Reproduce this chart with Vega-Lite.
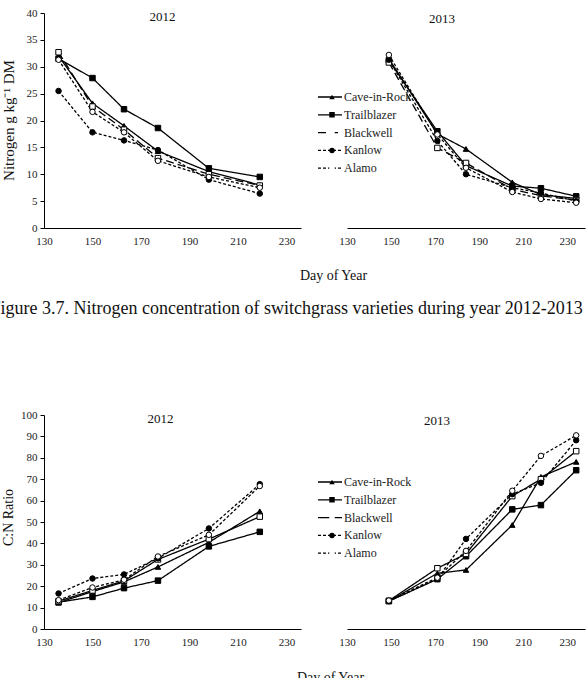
{
  "$schema": "https://vega.github.io/schema/vega-lite/v6.json",
  "autosize": {"type": "none"},
  "padding": {"left": 44, "top": 13, "right": 542, "bottom": 665},
  "background": "white",
  "datasets": {
    "nitrogen2012": [
      {"variety": "Cave-in-Rock", "day": 136, "value": 32.0},
      {"variety": "Cave-in-Rock", "day": 150, "value": 23.2},
      {"variety": "Cave-in-Rock", "day": 163, "value": 19.0},
      {"variety": "Cave-in-Rock", "day": 177, "value": 14.3},
      {"variety": "Cave-in-Rock", "day": 198, "value": 10.5},
      {"variety": "Cave-in-Rock", "day": 219, "value": 8.0},
      {"variety": "Trailblazer", "day": 136, "value": 31.5},
      {"variety": "Trailblazer", "day": 150, "value": 27.9},
      {"variety": "Trailblazer", "day": 163, "value": 22.1},
      {"variety": "Trailblazer", "day": 177, "value": 18.6},
      {"variety": "Trailblazer", "day": 198, "value": 11.1},
      {"variety": "Trailblazer", "day": 219, "value": 9.5},
      {"variety": "Blackwell", "day": 136, "value": 32.7},
      {"variety": "Blackwell", "day": 150, "value": 22.6},
      {"variety": "Blackwell", "day": 163, "value": 18.3},
      {"variety": "Blackwell", "day": 177, "value": 13.0},
      {"variety": "Blackwell", "day": 198, "value": 10.0},
      {"variety": "Blackwell", "day": 219, "value": 7.9},
      {"variety": "Kanlow", "day": 136, "value": 25.5},
      {"variety": "Kanlow", "day": 150, "value": 17.8},
      {"variety": "Kanlow", "day": 163, "value": 16.3},
      {"variety": "Kanlow", "day": 177, "value": 14.5},
      {"variety": "Kanlow", "day": 198, "value": 9.0},
      {"variety": "Kanlow", "day": 219, "value": 6.4},
      {"variety": "Alamo", "day": 136, "value": 31.3},
      {"variety": "Alamo", "day": 150, "value": 21.6},
      {"variety": "Alamo", "day": 163, "value": 17.8},
      {"variety": "Alamo", "day": 177, "value": 12.5},
      {"variety": "Alamo", "day": 198, "value": 9.5},
      {"variety": "Alamo", "day": 219, "value": 7.5}
    ],
    "nitrogen2013": [
      {"variety": "Cave-in-Rock", "day": 149, "value": 31.5},
      {"variety": "Cave-in-Rock", "day": 171, "value": 17.5},
      {"variety": "Cave-in-Rock", "day": 184, "value": 14.7},
      {"variety": "Cave-in-Rock", "day": 205, "value": 8.5},
      {"variety": "Cave-in-Rock", "day": 218, "value": 6.2},
      {"variety": "Cave-in-Rock", "day": 234, "value": 5.5},
      {"variety": "Trailblazer", "day": 149, "value": 31.2},
      {"variety": "Trailblazer", "day": 171, "value": 18.0},
      {"variety": "Trailblazer", "day": 184, "value": 11.6},
      {"variety": "Trailblazer", "day": 205, "value": 7.8},
      {"variety": "Trailblazer", "day": 218, "value": 7.4},
      {"variety": "Trailblazer", "day": 234, "value": 5.9},
      {"variety": "Blackwell", "day": 149, "value": 30.8},
      {"variety": "Blackwell", "day": 171, "value": 14.9},
      {"variety": "Blackwell", "day": 184, "value": 12.1},
      {"variety": "Blackwell", "day": 205, "value": 7.2},
      {"variety": "Blackwell", "day": 218, "value": 6.0},
      {"variety": "Blackwell", "day": 234, "value": 5.2},
      {"variety": "Kanlow", "day": 149, "value": 31.3},
      {"variety": "Kanlow", "day": 171, "value": 16.2},
      {"variety": "Kanlow", "day": 184, "value": 10.0},
      {"variety": "Kanlow", "day": 205, "value": 7.5},
      {"variety": "Kanlow", "day": 218, "value": 6.5},
      {"variety": "Kanlow", "day": 234, "value": 5.0},
      {"variety": "Alamo", "day": 149, "value": 32.2},
      {"variety": "Alamo", "day": 171, "value": 17.4},
      {"variety": "Alamo", "day": 184, "value": 11.2},
      {"variety": "Alamo", "day": 205, "value": 6.7},
      {"variety": "Alamo", "day": 218, "value": 5.4},
      {"variety": "Alamo", "day": 234, "value": 4.7}
    ],
    "ratio2012": [
      {"variety": "Cave-in-Rock", "day": 136, "value": 12.3},
      {"variety": "Cave-in-Rock", "day": 150, "value": 17.5},
      {"variety": "Cave-in-Rock", "day": 163, "value": 22.0},
      {"variety": "Cave-in-Rock", "day": 177, "value": 29.0},
      {"variety": "Cave-in-Rock", "day": 198, "value": 40.5},
      {"variety": "Cave-in-Rock", "day": 219, "value": 55.0},
      {"variety": "Trailblazer", "day": 136, "value": 12.5},
      {"variety": "Trailblazer", "day": 150, "value": 15.0},
      {"variety": "Trailblazer", "day": 163, "value": 19.1},
      {"variety": "Trailblazer", "day": 177, "value": 22.6},
      {"variety": "Trailblazer", "day": 198, "value": 38.6},
      {"variety": "Trailblazer", "day": 219, "value": 45.4},
      {"variety": "Blackwell", "day": 136, "value": 13.0},
      {"variety": "Blackwell", "day": 150, "value": 18.0},
      {"variety": "Blackwell", "day": 163, "value": 22.5},
      {"variety": "Blackwell", "day": 177, "value": 32.5},
      {"variety": "Blackwell", "day": 198, "value": 42.0},
      {"variety": "Blackwell", "day": 219, "value": 52.5},
      {"variety": "Kanlow", "day": 136, "value": 16.6},
      {"variety": "Kanlow", "day": 150, "value": 23.6},
      {"variety": "Kanlow", "day": 163, "value": 25.5},
      {"variety": "Kanlow", "day": 177, "value": 33.0},
      {"variety": "Kanlow", "day": 198, "value": 47.0},
      {"variety": "Kanlow", "day": 219, "value": 67.7},
      {"variety": "Alamo", "day": 136, "value": 13.5},
      {"variety": "Alamo", "day": 150, "value": 19.4},
      {"variety": "Alamo", "day": 163, "value": 23.0},
      {"variety": "Alamo", "day": 177, "value": 33.9},
      {"variety": "Alamo", "day": 198, "value": 44.0},
      {"variety": "Alamo", "day": 219, "value": 66.8}
    ],
    "ratio2013": [
      {"variety": "Cave-in-Rock", "day": 149, "value": 13.0},
      {"variety": "Cave-in-Rock", "day": 171, "value": 26.0},
      {"variety": "Cave-in-Rock", "day": 184, "value": 27.6},
      {"variety": "Cave-in-Rock", "day": 205, "value": 48.6},
      {"variety": "Cave-in-Rock", "day": 218, "value": 71.1},
      {"variety": "Cave-in-Rock", "day": 234, "value": 78.1},
      {"variety": "Trailblazer", "day": 149, "value": 13.0},
      {"variety": "Trailblazer", "day": 171, "value": 23.3},
      {"variety": "Trailblazer", "day": 184, "value": 34.0},
      {"variety": "Trailblazer", "day": 205, "value": 55.9},
      {"variety": "Trailblazer", "day": 218, "value": 57.9},
      {"variety": "Trailblazer", "day": 234, "value": 74.2},
      {"variety": "Blackwell", "day": 149, "value": 13.2},
      {"variety": "Blackwell", "day": 171, "value": 28.4},
      {"variety": "Blackwell", "day": 184, "value": 35.1},
      {"variety": "Blackwell", "day": 205, "value": 62.1},
      {"variety": "Blackwell", "day": 218, "value": 70.0},
      {"variety": "Blackwell", "day": 234, "value": 83.1},
      {"variety": "Kanlow", "day": 149, "value": 13.0},
      {"variety": "Kanlow", "day": 171, "value": 23.4},
      {"variety": "Kanlow", "day": 184, "value": 42.1},
      {"variety": "Kanlow", "day": 205, "value": 63.0},
      {"variety": "Kanlow", "day": 218, "value": 68.3},
      {"variety": "Kanlow", "day": 234, "value": 88.2},
      {"variety": "Alamo", "day": 149, "value": 13.3},
      {"variety": "Alamo", "day": 171, "value": 24.0},
      {"variety": "Alamo", "day": 184, "value": 36.5},
      {"variety": "Alamo", "day": 205, "value": 64.6},
      {"variety": "Alamo", "day": 218, "value": 80.9},
      {"variety": "Alamo", "day": 234, "value": 90.5}
    ]
  },
  "columns": 2,
  "bounds": "flush",
  "spacing": {"column": 46, "row": 187},
  "resolve": {
    "scale": {"x": "independent", "y": "independent", "strokeDash": "independent", "shape": "independent", "fill": "independent"}
  },
  "config": {
    "view": {"stroke": null},
    "font": "Times New Roman, Liberation Serif, serif",
    "axis": {
      "grid": false,
      "domainColor": "#000",
      "domainWidth": 1,
      "labelFont": "Times New Roman, Liberation Serif, serif",
      "labelFontSize": 11,
      "labelColor": "#222",
      "labelFlush": false,
      "labelOverlap": false,
      "titleFont": "Times New Roman, Liberation Serif, serif",
      "titleFontWeight": "normal",
      "titleColor": "#111",
      "titleLimit": 1000
    },
    "axisX": {"ticks": false, "labelPadding": 7},
    "axisY": {"ticks": true, "tickSize": 4, "tickColor": "#000", "labelPadding": 3},
    "legend": {"labelFont": "Times New Roman, Liberation Serif, serif", "labelFontSize": 12, "labelColor": "#222", "clipHeight": 16, "rowPadding": 1.8, "orient": "none"}
  },
  "concat": [
    {
      "data": {"name": "nitrogen2012"},
      "width": 257,
      "height": 215,
      "title": {"text": "2012", "dx": -10, "frame": "group", "anchor": "middle", "baseline": "middle", "offset": -23, "font": "Times New Roman, Liberation Serif, serif", "fontSize": 13, "fontWeight": "normal", "color": "#111"},
      "encoding": {
        "x": {"field": "day", "type": "quantitative", "scale": {"domain": [130, 236], "nice": false, "zero": false},
              "axis": {"values": [130, 150, 170, 190, 210, 230], "title": "Day of Year", "titleFontSize": 14, "titleX": 289, "titleY": 47, "titleAlign": "center", "titleBaseline": "middle"}},
        "y": {"field": "value", "type": "quantitative", "scale": {"domain": [0, 40], "nice": false},
              "axis": {"title": "Nitrogen g kg⁻¹ DM", "titleFontSize": 15, "titleX": -43, "titleY": 107, "titleAngle": 270, "titleAlign": "center", "titleBaseline": "top", "values": [0, 5, 10, 15, 20, 25, 30, 35, 40]}}
      },
      "layer": [
        {"mark": {"type": "line", "color": "black", "strokeWidth": 1.3},
         "encoding": {"strokeDash": {"field": "variety", "type": "nominal", "sort": ["Cave-in-Rock", "Trailblazer", "Blackwell", "Kanlow", "Alamo"],
                                     "scale": {"range": [[1, 0], [1, 0], [8, 4], [3, 2], [3, 2]]}, "legend": null}}},
        {"mark": {"type": "point", "size": 30, "stroke": "black", "strokeWidth": 1, "opacity": 1},
         "encoding": {
           "shape": {"field": "variety", "type": "nominal", "scale": {"domain": ["Cave-in-Rock", "Trailblazer", "Blackwell", "Kanlow", "Alamo"], "range": ["triangle-up", "square", "square", "circle", "circle"]}, "legend": null},
           "fill": {"field": "variety", "type": "nominal", "scale": {"domain": ["Cave-in-Rock", "Trailblazer", "Blackwell", "Kanlow", "Alamo"], "range": ["black", "black", "white", "black", "white"]}, "legend": null}
         }}
      ]
    },
    {
      "data": {"name": "nitrogen2013"},
      "width": 238,
      "height": 215,
      "title": {"text": "2013", "dx": -24, "frame": "group", "anchor": "middle", "baseline": "middle", "offset": -19, "font": "Times New Roman, Liberation Serif, serif", "fontSize": 13, "fontWeight": "normal", "color": "#111"},
      "encoding": {
        "x": {"field": "day", "type": "quantitative", "scale": {"domain": [130, 238], "nice": false, "zero": false},
              "axis": {"values": [130, 150, 170, 190, 210, 230], "title": "Figure 3.7. Nitrogen concentration of switchgrass varieties during year 2012-2013", "titleFontSize": 18, "titleX": -357, "titleY": 80, "titleAlign": "left", "titleBaseline": "middle"}},
        "y": {"field": "value", "type": "quantitative", "scale": {"domain": [0, 40], "nice": false}, "axis": null}
      },
      "layer": [
        {"mark": {"type": "line", "color": "black", "strokeWidth": 1.3},
         "encoding": {"strokeDash": {"field": "variety", "type": "nominal", "sort": ["Cave-in-Rock", "Trailblazer", "Blackwell", "Kanlow", "Alamo"],
                                     "scale": {"range": [[1, 0], [1, 0], [8, 4], [3, 2], [3, 2]]},
                                     "legend": {"title": null, "legendX": -30, "legendY": 76, "symbolType": "stroke", "symbolSize": 576, "symbolStrokeWidth": 1.3, "symbolStrokeColor": "black", "labelOffset": 1}}}},
        {"mark": {"type": "point", "size": 30, "stroke": "black", "strokeWidth": 1, "opacity": 1},
         "encoding": {
           "shape": {"field": "variety", "type": "nominal", "scale": {"domain": ["Cave-in-Rock", "Trailblazer", "Blackwell", "Kanlow", "Alamo"], "range": ["triangle-up", "square", "square", "circle", "circle"]},
                     "legend": {"title": null, "legendX": -21, "legendY": 76, "symbolSize": 30, "symbolStrokeWidth": 1, "symbolStrokeColor": "black", "labelExpr": "''"}},
           "fill": {"field": "variety", "type": "nominal", "scale": {"domain": ["Cave-in-Rock", "Trailblazer", "Blackwell", "Kanlow", "Alamo"], "range": ["black", "black", "white", "black", "white"]},
                    "legend": {"title": null, "legendX": -21, "legendY": 76, "symbolSize": 30, "symbolStrokeWidth": 1, "symbolStrokeColor": "black", "labelExpr": "''"}}
         }}
      ]
    },
    {
      "data": {"name": "ratio2012"},
      "width": 257,
      "height": 214,
      "title": {"text": "2012", "dx": -12, "frame": "group", "anchor": "middle", "baseline": "middle", "offset": -23, "font": "Times New Roman, Liberation Serif, serif", "fontSize": 13, "fontWeight": "normal", "color": "#111"},
      "encoding": {
        "x": {"field": "day", "type": "quantitative", "scale": {"domain": [130, 236], "nice": false, "zero": false},
              "axis": {"values": [130, 150, 170, 190, 210, 230], "title": "Day of Year", "titleFontSize": 14, "titleX": 286, "titleY": 48, "titleAlign": "center", "titleBaseline": "middle"}},
        "y": {"field": "value", "type": "quantitative", "scale": {"domain": [0, 100], "nice": false},
              "axis": {"title": "C:N Ratio", "titleFontSize": 14, "titleX": -43, "titleY": 102, "titleAngle": 270, "titleAlign": "center", "titleBaseline": "top", "values": [0, 10, 20, 30, 40, 50, 60, 70, 80, 90, 100]}}
      },
      "layer": [
        {"mark": {"type": "line", "color": "black", "strokeWidth": 1.3},
         "encoding": {"strokeDash": {"field": "variety", "type": "nominal", "sort": ["Cave-in-Rock", "Trailblazer", "Blackwell", "Kanlow", "Alamo"],
                                     "scale": {"range": [[1, 0], [1, 0], [1, 0], [3, 2], [3, 2]]}, "legend": null}}},
        {"mark": {"type": "point", "size": 30, "stroke": "black", "strokeWidth": 1, "opacity": 1},
         "encoding": {
           "shape": {"field": "variety", "type": "nominal", "scale": {"domain": ["Cave-in-Rock", "Trailblazer", "Blackwell", "Kanlow", "Alamo"], "range": ["triangle-up", "square", "square", "circle", "circle"]}, "legend": null},
           "fill": {"field": "variety", "type": "nominal", "scale": {"domain": ["Cave-in-Rock", "Trailblazer", "Blackwell", "Kanlow", "Alamo"], "range": ["black", "black", "white", "black", "white"]}, "legend": null}
         }}
      ]
    },
    {
      "data": {"name": "ratio2013"},
      "width": 238,
      "height": 214,
      "title": {"text": "2013", "dx": -29, "frame": "group", "anchor": "middle", "baseline": "middle", "offset": -19, "font": "Times New Roman, Liberation Serif, serif", "fontSize": 13, "fontWeight": "normal", "color": "#111"},
      "encoding": {
        "x": {"field": "day", "type": "quantitative", "scale": {"domain": [130, 238], "nice": false, "zero": false}, "axis": {"values": [130, 150, 170, 190, 210, 230], "title": null}},
        "y": {"field": "value", "type": "quantitative", "scale": {"domain": [0, 100], "nice": false}, "axis": null}
      },
      "layer": [
        {"mark": {"type": "line", "color": "black", "strokeWidth": 1.3},
         "encoding": {"strokeDash": {"field": "variety", "type": "nominal", "sort": ["Cave-in-Rock", "Trailblazer", "Blackwell", "Kanlow", "Alamo"],
                                     "scale": {"range": [[1, 0], [1, 0], [1, 0], [3, 2], [3, 2]]},
                                     "legend": {"title": null, "legendX": -30, "legendY": 59, "symbolType": "stroke", "symbolSize": 576, "symbolStrokeWidth": 1.3, "symbolStrokeColor": "black", "labelOffset": 1}}}},
        {"mark": {"type": "point", "size": 30, "stroke": "black", "strokeWidth": 1, "opacity": 1},
         "encoding": {
           "shape": {"field": "variety", "type": "nominal", "scale": {"domain": ["Cave-in-Rock", "Trailblazer", "Blackwell", "Kanlow", "Alamo"], "range": ["triangle-up", "square", "square", "circle", "circle"]},
                     "legend": {"title": null, "legendX": -21, "legendY": 59, "symbolSize": 30, "symbolStrokeWidth": 1, "symbolStrokeColor": "black", "labelExpr": "''"}},
           "fill": {"field": "variety", "type": "nominal", "scale": {"domain": ["Cave-in-Rock", "Trailblazer", "Blackwell", "Kanlow", "Alamo"], "range": ["black", "black", "white", "black", "white"]},
                    "legend": {"title": null, "legendX": -21, "legendY": 59, "symbolSize": 30, "symbolStrokeWidth": 1, "symbolStrokeColor": "black", "labelExpr": "''"}}
         }}
      ]
    }
  ]
}
